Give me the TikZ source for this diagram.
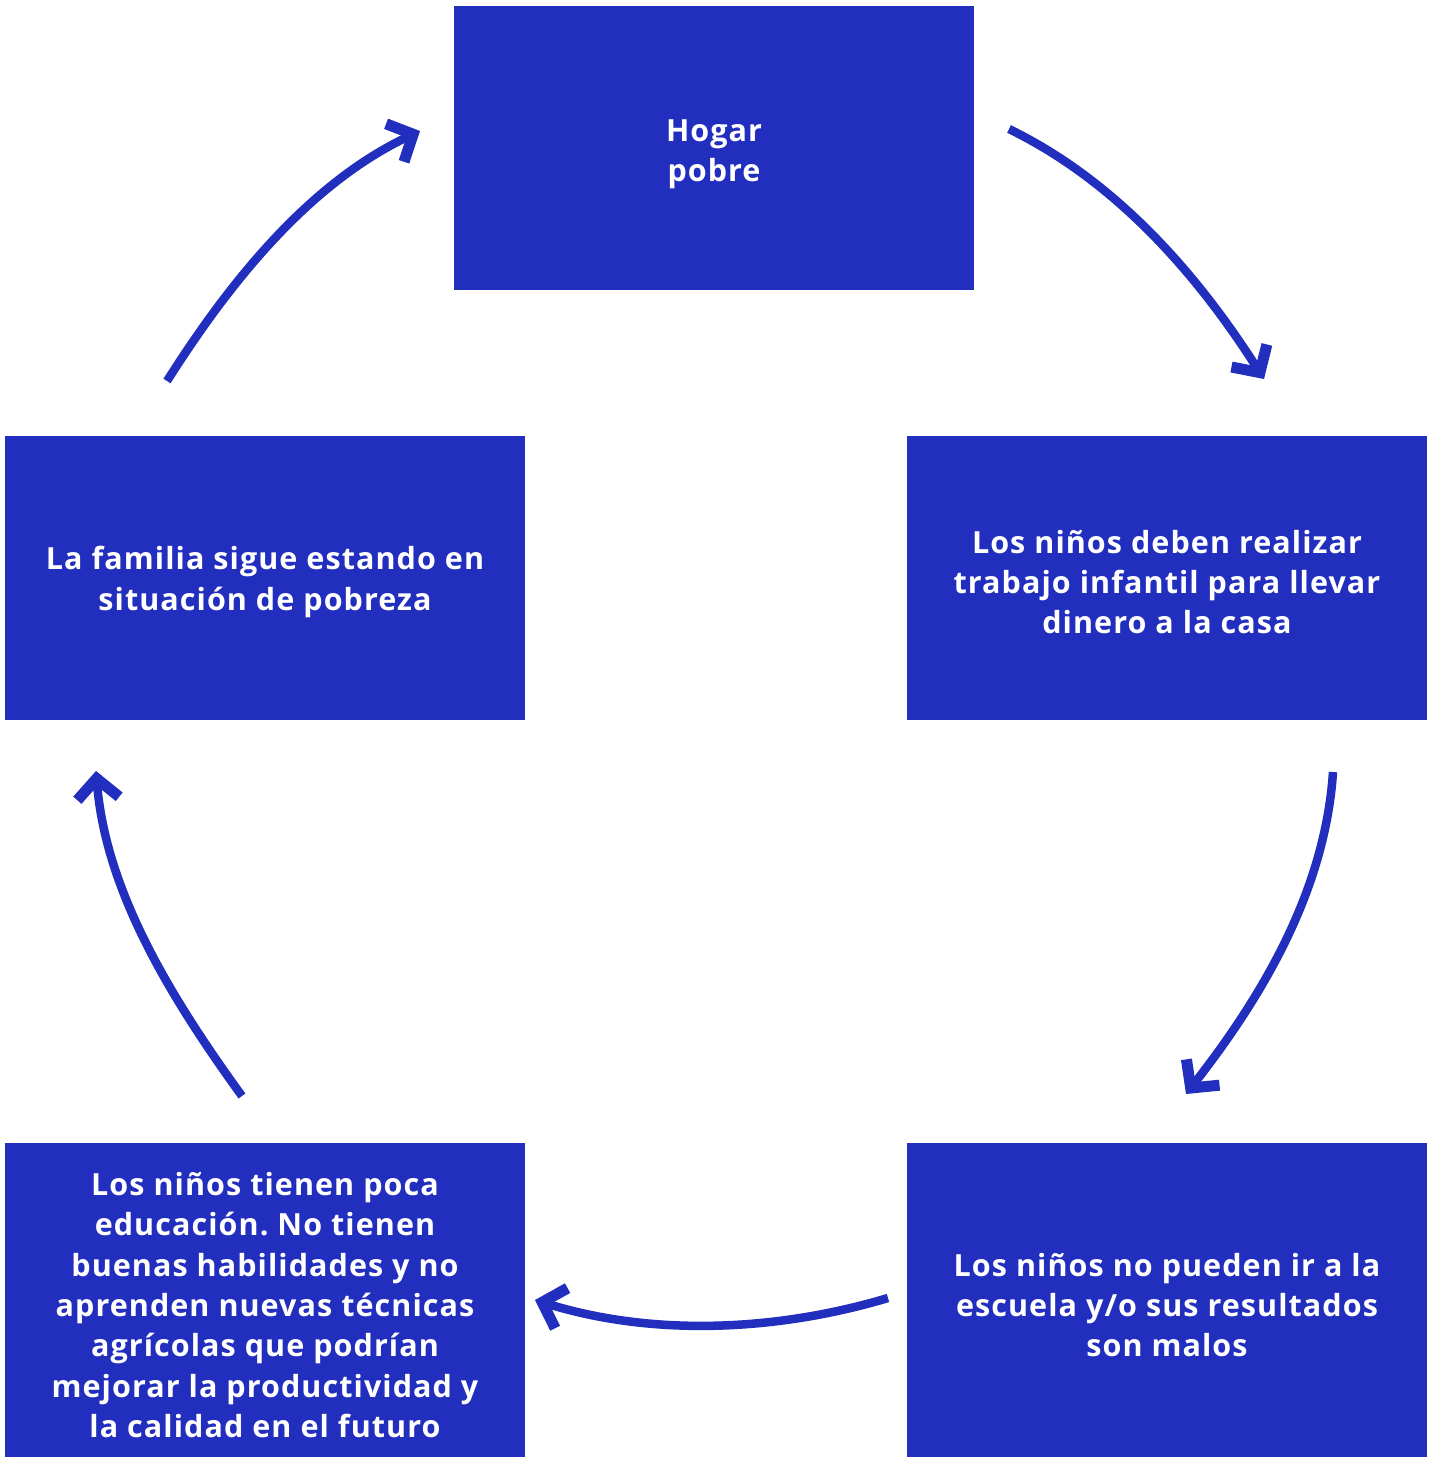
\documentclass[tikz,border=0pt]{standalone}
\usepackage{fontspec}
\setmainfont{Open Sans}[LetterSpace=3.5]
\usetikzlibrary{arrows.meta}
\definecolor{cblue}{RGB}{33,46,190}
\frenchspacing
\begin{document}
\begin{tikzpicture}[x=1pt,y=-1pt,
  box/.style={fill=cblue,draw=none,inner sep=0pt,
    minimum width=520pt,minimum height=284pt},
  txt/.style={text=white,align=center,inner sep=0pt,
    font=\fontsize{30.5}{40.3}\selectfont\bfseries\frenchspacing},
  cyc/.style={draw=cblue,line width=8.5pt,
    -{Straight Barb[length=20pt,width=42pt,line width=11pt,sharp]}}]
\useasboundingbox (0,0) rectangle (1435,1457);
\node[box] (top) at (714,148) {};
\node[box] (right) at (1167,578) {};
\node[box] (left) at (265,578) {};
\node[box,minimum height=314pt] (br) at (1167,1300) {};
\node[box,minimum height=314pt] (bl) at (265,1300) {};
\node[txt] (ttop) at ([yshift=-6pt]top.center) {Hogar\\pobre};
\node[txt] (tright) at ([yshift=-4pt]right.center) {Los niños deben realizar\\trabajo infantil para llevar\\dinero a la casa};
\node[txt] (tleft) at ([yshift=-4pt]left.center) {La familia sigue estando en\\situación de pobreza};
\node[txt] (tbr) at ([yshift=-5pt]br.center) {Los niños no pueden ir a la\\escuela y/o sus resultados\\son malos};
\node[txt] (tbl) at ([yshift=-5pt]bl.center) {Los niños tienen poca\\educación. No tienen\\buenas habilidades y no\\aprenden nuevas técnicas\\agrícolas que podrían\\mejorar la productividad y\\la calidad en el futuro};
\coordinate (a1s) at (167,381); \coordinate (a1e) at (420,131);
\coordinate (a2s) at (1009,129); \coordinate (a2e) at (1264,379);
\coordinate (a3s) at (1333,772); \coordinate (a3e) at (1186,1094);
\coordinate (a4s) at (888,1298); \coordinate (a4e) at (535,1300);
\coordinate (a5s) at (242,1096); \coordinate (a5e) at (96,771);
\draw[cyc] (a1s) .. controls (231,280) and (310,183) .. (a1e);
\draw[cyc] (a2s) .. controls (1118,182) and (1199,277) .. (a2e);
\draw[cyc] (a3s) .. controls (1325,892) and (1261,998) .. (a3e);
\draw[cyc] (a4s) .. controls (774,1332) and (651,1336) .. (a4e);
\draw[cyc] (a5s) .. controls (171,998) and (106,892) .. (a5e);
\end{tikzpicture}
\end{document}
